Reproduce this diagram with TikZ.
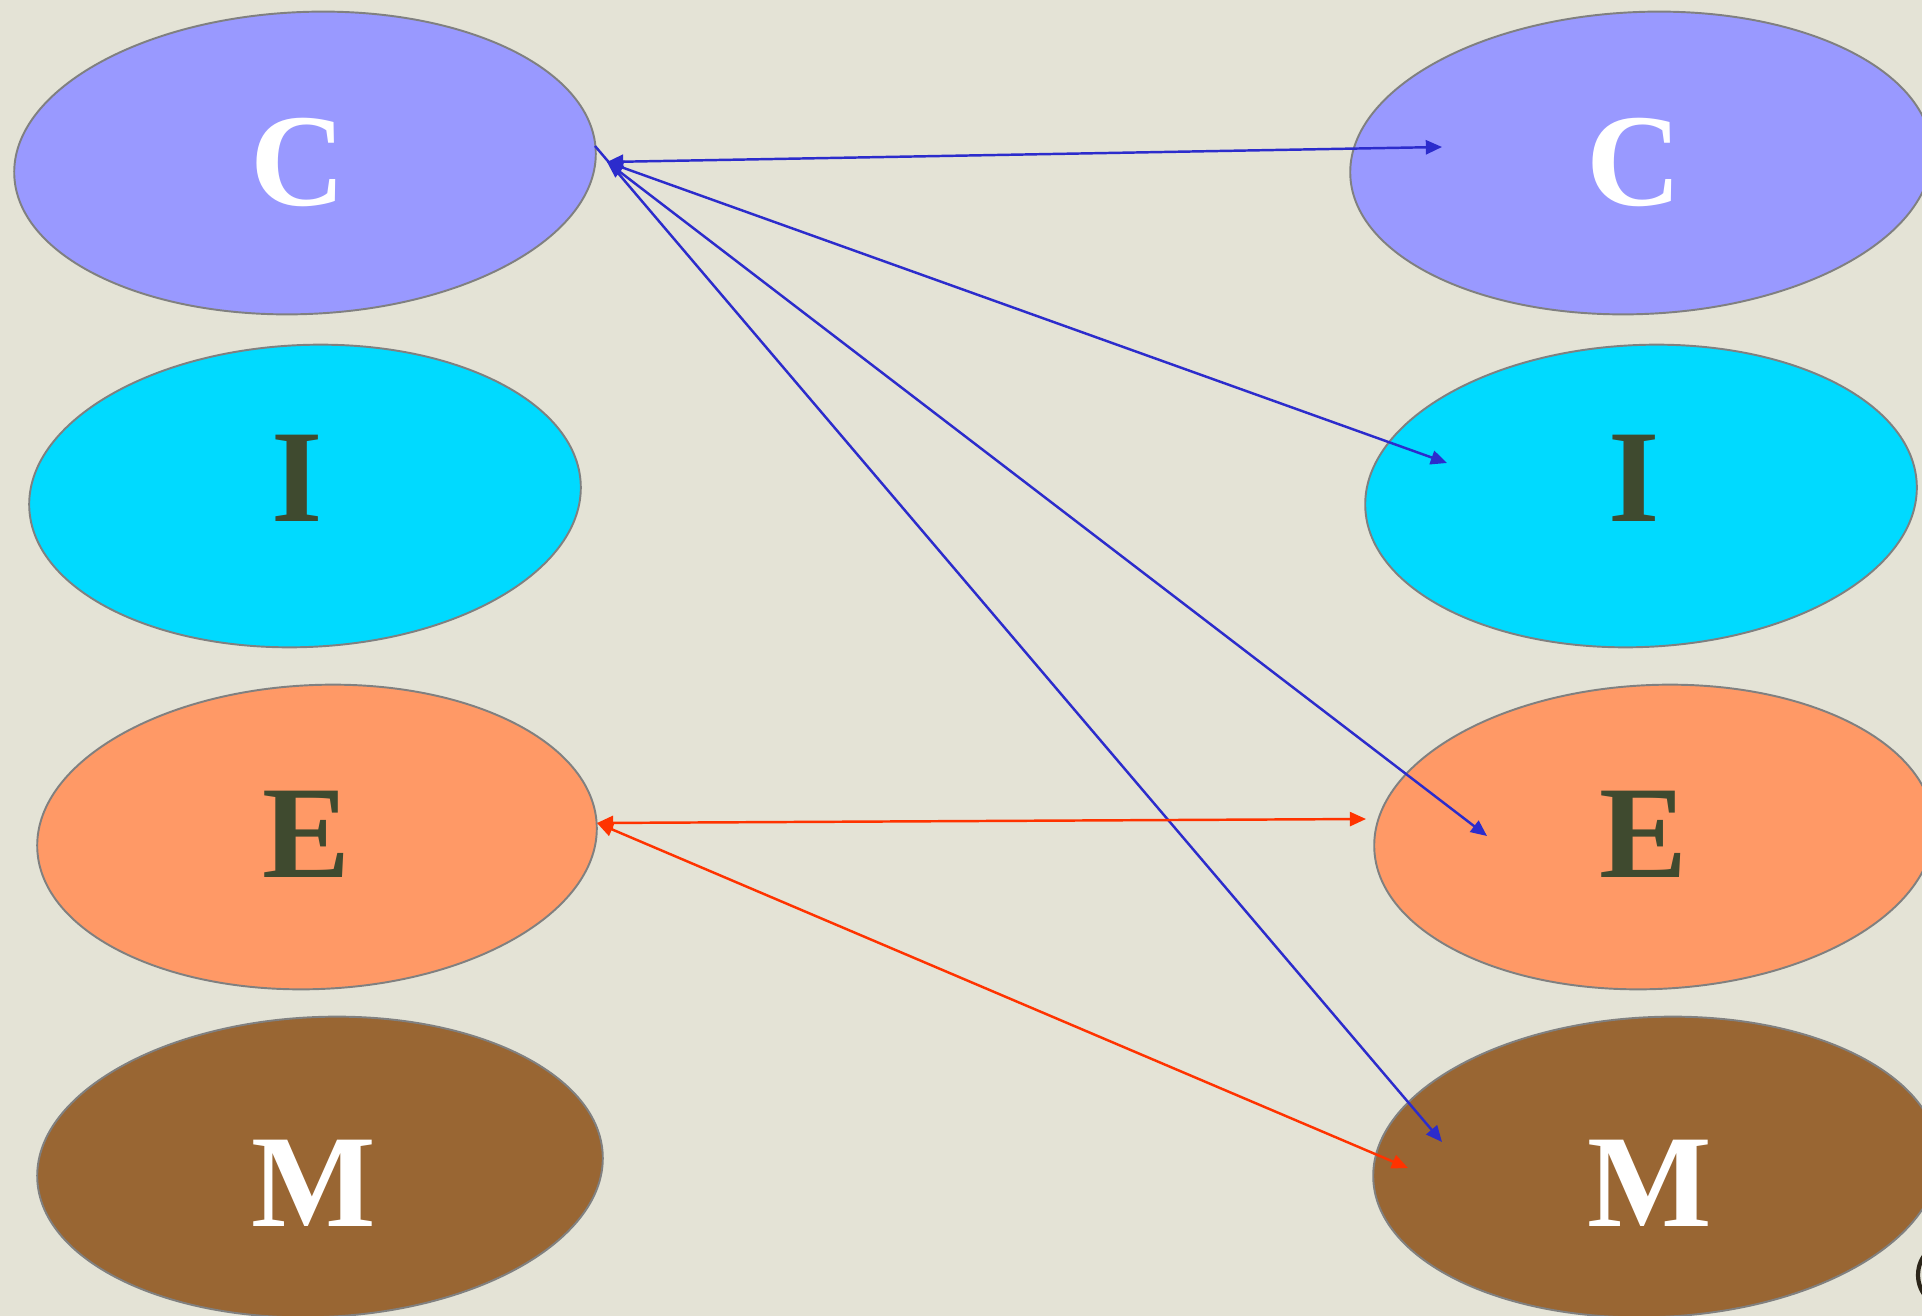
\documentclass[tikz,border=0pt]{standalone}
\usepackage{fontspec}
\newfontfamily\capfont{Liberation Serif Bold}
\usepackage{xcolor}
\usepackage{tikz}
\usetikzlibrary{arrows.meta}

\definecolor{paper}{HTML}{E4E3D6}
\definecolor{colC}{HTML}{9999FF}
\definecolor{colI}{HTML}{00DAFF}
\definecolor{colE}{HTML}{FF9966}
\definecolor{colM}{HTML}{996633}
\definecolor{ink}{HTML}{3F4A2F}
\definecolor{linkBlue}{HTML}{2C2CCC}
\definecolor{linkRed}{HTML}{FF3300}
\definecolor{rimGray}{HTML}{808080}

\tikzset{
	bubble/.style={draw=rimGray, line width=0.55pt},
	letter/.style={inner sep=0pt, font=\fontsize{37.5}{44}\capfont},
	bluelink/.style={draw=linkBlue, line width=0.7pt, -{Triangle[length=4.6pt,width=4pt]}},
	redlink/.style={draw=linkRed, line width=0.7pt, {Triangle[length=4.6pt,width=4pt]}-{Triangle[length=4.6pt,width=4pt]}}
}

\begin{document}
\begin{tikzpicture}[x=0.01cm, y=-0.01cm]

\clip (0,0) rectangle (1922,1316);
\fill[paper] (0,0) rectangle (1922,1316);

\foreach \x/\y/\rx/\ry/\c in {305/163/291/151/colC, 305/496/276/151/colI, 317/837/280/152/colE, 320/1167/283/150/colM,
	1641/163/291/151/colC, 1641/496/276/151/colI, 1654/837/280/152/colE, 1656/1167/283/150/colM}{
	\draw[bubble, fill=\c, rotate around={2.5:(\x,\y)}] (\x,\y) ellipse [x radius=\rx, y radius=\ry];
}

\node[letter, text=white] (cL) at ( 298, 162) {C};
\node[letter, text=ink  ] (iL) at ( 297, 478) {I};
\node[letter, text=ink  ] (eL) at ( 306, 834) {E};
\node[letter, text=white] (mL) at ( 314,1183) {M};

\node[letter, text=white] (cR) at (1634, 162) {C};
\node[letter, text=ink  ] (iR) at (1634, 478) {I};
\node[letter, text=ink  ] (eR) at (1643, 834) {E};
\node[letter, text=white] (mR) at (1650,1183) {M};

\coordinate (cTip)  at ( 607, 162);
\coordinate (cEdge) at ( 595, 146);
\coordinate (toC)   at (1442, 147);
\coordinate (toI)   at (1447, 463);
\coordinate (toE)   at (1487, 836);
\coordinate (toM)   at (1442,1142);

\coordinate (eTip)  at ( 597, 823);
\coordinate (toEr)  at (1366, 819);
\coordinate (toMr)  at (1408,1168);

\draw[bluelink, {Triangle[length=4.6pt,width=4pt]}-{Triangle[length=4.6pt,width=4pt]}] (cTip) -- (toC);
\draw[bluelink, {Triangle[length=4.6pt,width=4pt]}-{Triangle[length=4.6pt,width=4pt]}] (cTip) -- (toI);
\draw[bluelink, {Triangle[length=4.6pt,width=4pt]}-{Triangle[length=4.6pt,width=4pt]}] (cTip) -- (toE);
\draw[bluelink] (cEdge) -- (toM);

\draw[redlink] (eTip) -- (toEr);
\draw[redlink] (eTip) -- (toMr);

\draw[draw={rgb,255:red,43;green,37;blue,25}, line width=1.2pt] (1952,1275) circle [radius=34];

\end{tikzpicture}
\end{document}
